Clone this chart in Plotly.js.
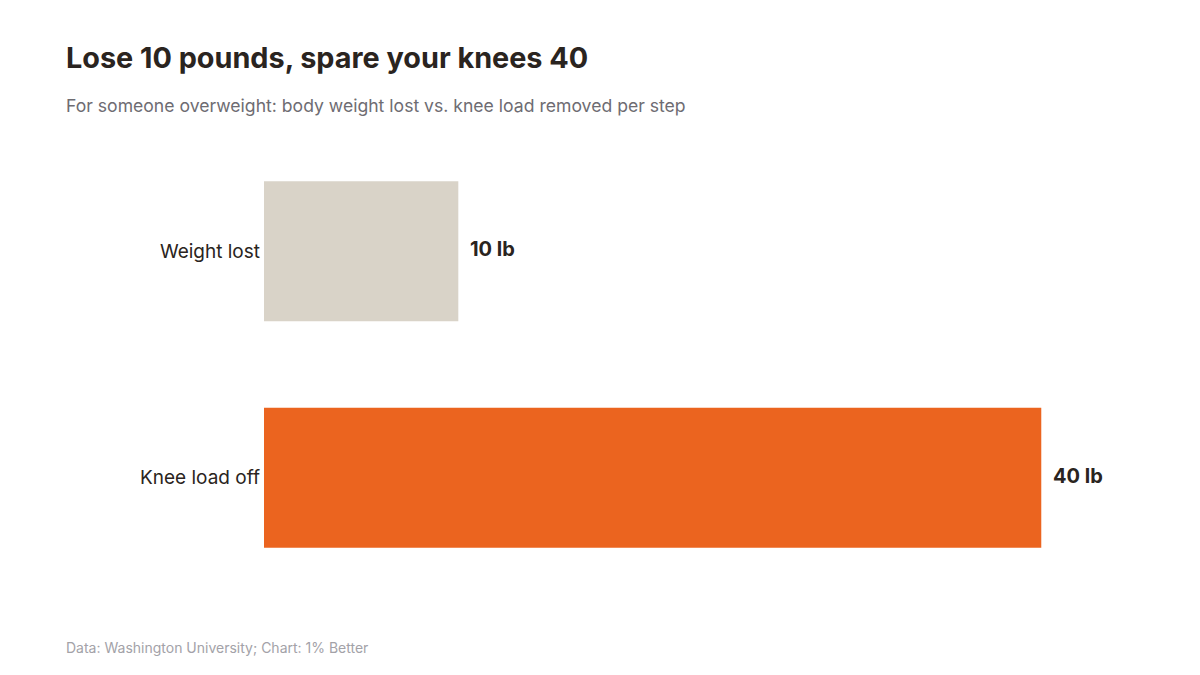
<!DOCTYPE html>
<html>
<head>
<meta charset="utf-8">
<script src="https://cdn.plot.ly/plotly-3.0.1.min.js"></script>
<style>html,body{margin:0;padding:0;background:#fff;}#chart{width:1200px;height:675px;}</style>
</head>
<body>
<div id="chart"></div>
<script>
const categories = ["Weight lost", "Knee load off"];
const values = [10, 40];
const valueLabels = ["10 lb", "40 lb"];
const barColors = ["#d9d3c8", "#eb641f"];

const titleText = "Lose 10 pounds, spare your knees 40";
const subtitleText = "For someone overweight: body weight lost vs. knee load removed per step";
const sourceText = "Data: Washington University; Chart: 1% Better";

const FONT = "Inter, 'DejaVu Sans', sans-serif";
const W = 1200, H = 675;
const mL = 264, mR = 81, mT = 138, mB = 84;
const plotW = W - mL - mR, plotH = H - mT - mB;
const px = x => (x - mL) / plotW;
const py = y => 1 - (y - mT) / plotH;

const trace = {
  type: "bar",
  orientation: "h",
  y: categories,
  x: values,
  marker: { color: barColors, line: { width: 0 } },
  hoverinfo: "none"
};

const annotations = categories.map((c, i) => ({
  x: values[i], y: c, xref: "x", yref: "y",
  text: "<b>" + valueLabels[i] + "</b>",
  showarrow: false, xanchor: "left", yanchor: "middle", xshift: 10, yshift: 2,
  font: { family: FONT, size: 20, color: "#2a2420" }
}));
annotations.push({
  x: px(64), y: py(105), xref: "paper", yref: "paper",
  text: subtitleText, showarrow: false, xanchor: "left", yanchor: "middle",
  font: { family: FONT, size: 17.6, color: "#6e6c72" }
});
annotations.push({
  x: px(64), y: py(647), xref: "paper", yref: "paper",
  text: sourceText, showarrow: false, xanchor: "left", yanchor: "middle",
  font: { family: FONT, size: 14, color: "#a3a2a8" }
});

const layout = {
  width: W, height: H,
  margin: { l: mL, r: mR, t: mT, b: mB },
  paper_bgcolor: "#ffffff", plot_bgcolor: "#ffffff",
  title: {
    text: "<b>" + titleText + "</b>",
    xref: "container", yref: "container",
    x: 66 / W, xanchor: "left",
    y: 1 - 58 / H, yanchor: "middle",
    font: { family: FONT, size: 28.8, color: "#2a2420" }
  },
  showlegend: false,
  bargap: 0.383,
  xaxis: { range: [0, 44], showgrid: false, zeroline: false, showline: false, showticklabels: false, ticks: "", fixedrange: true },
  yaxis: { autorange: "reversed", showgrid: false, zeroline: false, showline: false, ticks: "", ticklabelstandoff: 3,
           tickfont: { family: FONT, size: 19, color: "#2a2420" }, fixedrange: true },
  annotations: annotations
};

Plotly.newPlot("chart", [trace], layout, { displayModeBar: false, staticPlot: true });
</script>
</body>
</html>
